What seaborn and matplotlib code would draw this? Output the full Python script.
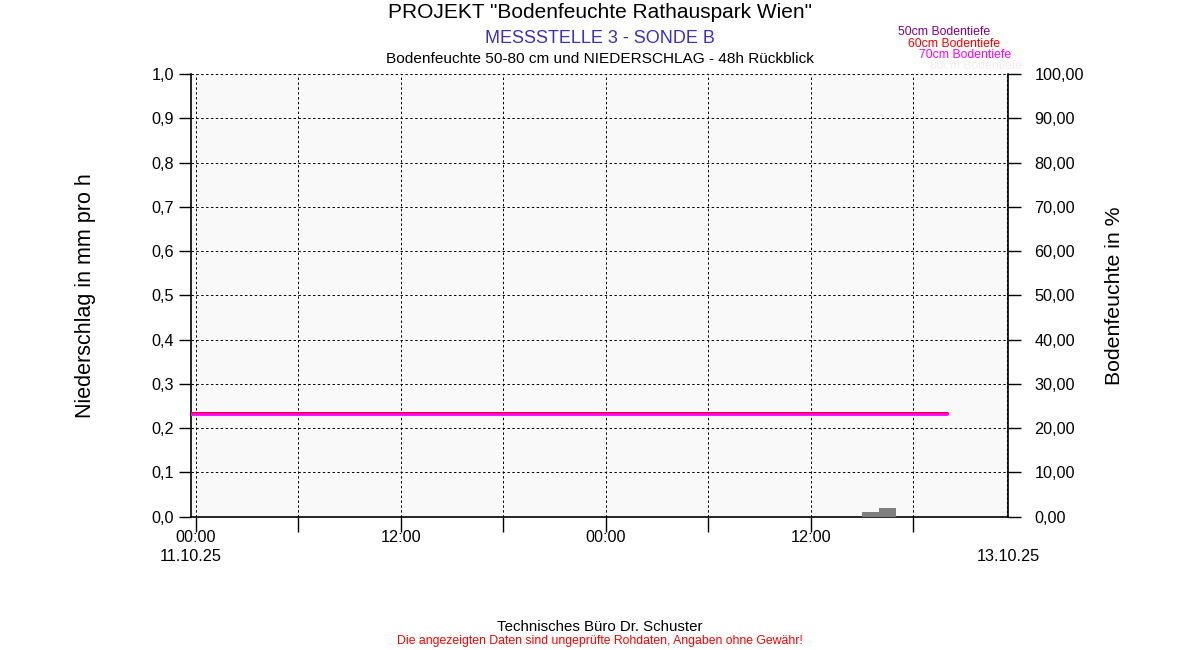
import matplotlib
matplotlib.use("Agg")
import matplotlib.pyplot as plt
import seaborn as sns
import pandas as pd
from matplotlib.ticker import FuncFormatter, MultipleLocator

# Daten (Stunden ab 11.10.25 00:00)
rain_hours = [39, 40]
rain_mm = [0.01, 0.02]

line_hours = [-0.3, 44]
soil_50 = [23.4, 23.4]
soil_60 = [23.5, 23.5]
soil_70 = [23.2, 23.2]

tick_hours = [0, 12, 24, 36]
tick_labels = ["00:00", "12:00", "00:00", "12:00"]
date_start = "11.10.25"
date_end = "13.10.25"

series_names = ["50cm Bodentiefe", "60cm Bodentiefe", "70cm Bodentiefe", "80cm Bodentiefe"]
series_colors = ["#800080", "#ff0000", "#ff00ff", "#f3eeee"]

sns.set_theme(style="white")
plt.rcParams["font.family"] = ["Liberation Sans", "DejaVu Sans"]
plt.rcParams["text.color"] = "black"
plt.rcParams["axes.labelcolor"] = "black"
plt.rcParams["xtick.color"] = "black"
plt.rcParams["ytick.color"] = "black"

fig = plt.figure(figsize=(12, 6.5), dpi=100)
ax = fig.add_axes([0.159, 0.205, 0.681, 0.681])
ax.set_facecolor("#f9f9f9")

# Niederschlag (linke Achse)
ax.bar(rain_hours, rain_mm, width=1.0, align="edge", color="#808080", edgecolor="none", zorder=3)
ax.set_ylim(0, 1.0)
ax.yaxis.set_major_locator(MultipleLocator(0.1))
ax.yaxis.set_major_formatter(FuncFormatter(lambda v, p: f"{v:.1f}".replace(".", ",")))
ax.set_xlim(-0.3, 47.55)
ax.xaxis.set_major_locator(MultipleLocator(6))
ax.set_xticklabels([])
ax.grid(True, color="black", linestyle=(0, (2.5, 2.5)), linewidth=0.7)
ax.set_axisbelow(True)
for s in ["top", "right"]:
    ax.spines[s].set_visible(False)
ax.spines["left"].set_color("black")
ax.spines["bottom"].set_color("black")
ax.spines["left"].set_linewidth(1.2)
ax.spines["bottom"].set_linewidth(1.2)
ax.tick_params(axis="y", direction="out", length=9, width=1, labelsize=11.7, pad=3, left=True)
ax.tick_params(axis="x", direction="out", length=11, width=1, bottom=True)
ax.set_ylabel("Niederschlag in mm pro h", fontsize=15.5, labelpad=40)

for h, lab in zip(tick_hours, tick_labels):
    ax.text(h, -0.03, lab, transform=ax.get_xaxis_transform(), ha="center", va="top", fontsize=11.7)
ax.text(-0.3, -0.072, date_start, transform=ax.get_xaxis_transform(), ha="center", va="top", fontsize=11.7)
ax.text(47.55, -0.072, date_end, transform=ax.get_xaxis_transform(), ha="center", va="top", fontsize=11.7)

# Bodenfeuchte (rechte Achse)
ax2 = ax.twinx()
df = pd.DataFrame({
    "h": line_hours * 3,
    "v": soil_50 + soil_60 + soil_70,
    "s": [series_names[0]] * 2 + [series_names[1]] * 2 + [series_names[2]] * 2,
})
sns.lineplot(data=df, x="h", y="v", hue="s", palette=series_colors[:3], linewidth=2,
             legend=False, ax=ax2)
ax2.set_ylim(0, 100)
ax2.set_xlim(-0.3, 47.55)
ax2.yaxis.set_major_locator(MultipleLocator(10))
ax2.yaxis.set_major_formatter(FuncFormatter(lambda v, p: f"{v:.2f}".replace(".", ",")))
ax2.tick_params(axis="y", direction="out", length=9, width=1, labelsize=11.7, pad=10, right=True)
ax2.set_ylabel("Bodenfeuchte in %", fontsize=15.3, labelpad=15)
ax2.set_xlabel("")
for s in ["top", "left", "bottom"]:
    ax2.spines[s].set_visible(False)
ax2.spines["right"].set_color("black")
ax2.spines["right"].set_linewidth(1.2)
ax2.axvline(47.5, color="black", linestyle=(0, (2, 2)), linewidth=0.8)

# Titel
fig.text(0.5, 0.981, 'PROJEKT "Bodenfeuchte Rathauspark Wien"', ha="center", va="center", fontsize=15)
fig.text(0.5, 0.941, "MESSSTELLE 3 - SONDE B", ha="center", va="center", fontsize=13, color="#3a2fc8")
fig.text(0.5, 0.909, "Bodenfeuchte 50-80 cm und NIEDERSCHLAG - 48h Rückblick", ha="center", va="center", fontsize=11.1)

# Legende
leg_x = [0.748, 0.757, 0.766, 0.775]
leg_y = [0.951, 0.933, 0.916, 0.898]
for name, col, x, y in zip(series_names, series_colors, leg_x, leg_y):
    fig.text(x, y, name, ha="left", va="center", fontsize=8.8, color=col)

# Fusszeile
fig.text(0.5, 0.035, "Technisches Büro Dr. Schuster", ha="center", va="center", fontsize=10.8)
fig.text(0.5, 0.014, "Die angezeigten Daten sind ungeprüfte Rohdaten, Angaben ohne Gewähr!", ha="center", va="center", fontsize=8.8, color="#ff0000")

fig.savefig("out.png", dpi=100, facecolor="white")
